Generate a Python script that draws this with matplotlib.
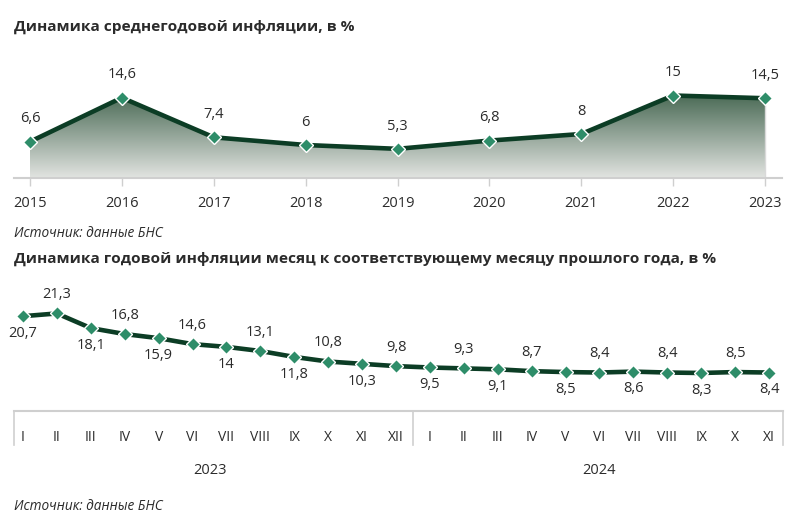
import matplotlib
matplotlib.use('Agg')
import matplotlib.pyplot as plt
import numpy as np
from matplotlib.colors import LinearSegmentedColormap
from matplotlib.patches import Polygon

plt.rcParams['font.family'] = ['Open Sans', 'DejaVu Sans']

# --- data ---
years = [2015, 2016, 2017, 2018, 2019, 2020, 2021, 2022, 2023]
avg_infl = [6.6, 14.6, 7.4, 6, 5.3, 6.8, 8, 15, 14.5]

months = ['I', 'II', 'III', 'IV', 'V', 'VI', 'VII', 'VIII', 'IX', 'X', 'XI', 'XII',
          'I', 'II', 'III', 'IV', 'V', 'VI', 'VII', 'VIII', 'IX', 'X', 'XI']
month_years = ['2023', '2024']
yoy_infl = [20.7, 21.3, 18.1, 16.8, 15.9, 14.6, 14, 13.1, 11.8, 10.8, 10.3, 9.8,
            9.5, 9.3, 9.1, 8.7, 8.5, 8.4, 8.6, 8.4, 8.3, 8.5, 8.4]

title1 = 'Динамика среднегодовой инфляции, в %'
title2 = 'Динамика годовой инфляции месяц к соответствующему месяцу прошлого года, в %'
source = 'Источник: данные БНС'

LINE = '#0c3d25'
MARK = '#2e8d69'
TXT = '#2b2b2b'
AXC = '#cfcfcf'

W, H = 800, 526
fig = plt.figure(figsize=(W / 100, H / 100), dpi=100)


def fmt(v):
    return ('%g' % v).replace('.', ',')


def px_axes(x0, y_top, x1, y_bot):
    return fig.add_axes([x0 / W, 1 - y_bot / H, (x1 - x0) / W, (y_bot - y_top) / H])


# ---------- top chart ----------
ax1 = px_axes(14, 60, 782, 178)
step = (765 - 30) / 8
ax1.set_xlim(2015 - 16 / step, 2023 + 17 / step)
ax1.set_ylim(0, 118 / 5.5)

cmap = LinearSegmentedColormap.from_list('g', ['#4b6b56', '#e2e4e1'])
top = max(avg_infl)
grad = np.linspace(0, 1, 256).reshape(-1, 1)
img = ax1.imshow(grad, cmap=cmap, aspect='auto', origin='upper',
                 extent=[years[0], years[-1], 0, top], zorder=1)
poly = Polygon(list(zip(years, avg_infl)) + [(years[-1], 0), (years[0], 0)],
               closed=True, facecolor='none', edgecolor='none')
ax1.add_patch(poly)
img.set_clip_path(poly)
ax1.plot([years[-1], years[-1]], [0, avg_infl[-1]], color='#d9d9d9', lw=1, zorder=2)

ax1.plot(years, avg_infl, color=LINE, lw=3.3, zorder=3, solid_joinstyle='round')
ax1.plot(years, avg_infl, 'D', color=MARK, ms=7.5, mec='white', mew=1, zorder=4)
for x, v in zip(years, avg_infl):
    ax1.annotate(fmt(v), (x, v), xytext=(0, 11), textcoords='offset points',
                 ha='center', va='bottom', fontsize=10.5, color=TXT)

for s in ['top', 'right', 'left']:
    ax1.spines[s].set_visible(False)
ax1.spines['bottom'].set_color(AXC)
ax1.spines['bottom'].set_linewidth(1.5)
ax1.set_yticks([])
ax1.set_xticks(years)
ax1.set_xticklabels([str(y) for y in years], fontsize=10.5, color=TXT)
ax1.tick_params(axis='x', length=6, color=AXC, width=1, pad=7)
ax1.patch.set_alpha(0)

fig.text(14 / W, 1 - 27 / H, title1, fontsize=11.1, fontweight='bold', color=TXT, va='center')
fig.text(14 / W, 1 - 233 / H, source, fontsize=9.8, style='italic', color=TXT, va='center')

# ---------- bottom chart ----------
ax2 = px_axes(14, 280, 783, 411)
idx = np.arange(len(yoy_infl))
step2 = (769 - 23) / (len(yoy_infl) - 1)
ax2.set_xlim(-9 / step2, idx[-1] + 14 / step2)
ax2.set_ylim(0, 131 / 4.58)

ax2.plot(idx, yoy_infl, color=LINE, lw=3.3, zorder=3, solid_joinstyle='round')
ax2.plot(idx, yoy_infl, 'D', color=MARK, ms=7, mec='white', mew=1, zorder=4)
for i, v in zip(idx, yoy_infl):
    if i % 2 == 0:
        ax2.annotate(fmt(v), (i, v), xytext=(0, -7), textcoords='offset points',
                     ha='center', va='top', fontsize=10.5, color=TXT)
    else:
        ax2.annotate(fmt(v), (i, v), xytext=(0, 8), textcoords='offset points',
                     ha='center', va='bottom', fontsize=10.5, color=TXT)

for s in ['top', 'right', 'left']:
    ax2.spines[s].set_visible(False)
ax2.spines['bottom'].set_color(AXC)
ax2.spines['bottom'].set_linewidth(1.5)
ax2.set_yticks([])
ax2.set_xticks(idx)
ax2.set_xticklabels(months, fontsize=10, color=TXT)
ax2.tick_params(axis='x', length=0, pad=14)
ax2.patch.set_alpha(0)

tr = ax2.get_xaxis_transform()
xl = ax2.get_xlim()
for xs in [xl[0], 11.5, xl[1]]:
    ax2.plot([xs, xs], [0, -34 / 131], color=AXC, lw=1.2, transform=tr, clip_on=False)

n23 = months.index('XII') + 1
ax2.text(np.mean(idx[:n23]), -60 / 131, month_years[0], transform=tr,
         ha='center', va='center', fontsize=10.5, color=TXT)
ax2.text(np.mean(idx[n23:]), -60 / 131, month_years[1], transform=tr,
         ha='center', va='center', fontsize=10.5, color=TXT)

fig.text(14 / W, 1 - 259 / H, title2, fontsize=11.1, fontweight='bold', color=TXT, va='center')
fig.text(14 / W, 1 - 507 / H, source, fontsize=9.8, style='italic', color=TXT, va='center')

fig.savefig('out.png', dpi=100, facecolor='white')
